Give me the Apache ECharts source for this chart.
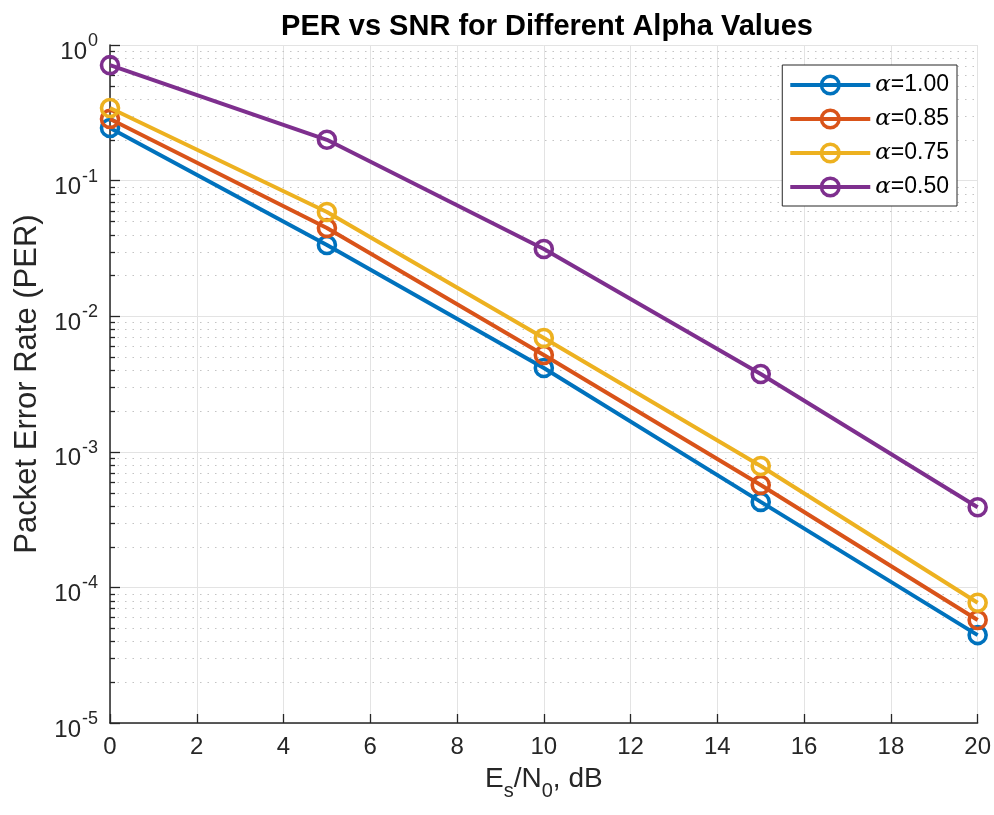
<!DOCTYPE html>
<html><head><meta charset="utf-8">
<script src="https://cdn.jsdelivr.net/npm/echarts@6/dist/echarts.min.js"></script>
<style>html,body{margin:0;padding:0;background:#fff}#c{width:994px;height:815px}</style>
</head><body><div id="c"></div>
<script>
const snr = [0, 5, 10, 15, 20];
const per100 = [0.244, 0.0335, 0.00415, 0.000427, 0.0000445];
const per085 = [0.285, 0.0447, 0.00517, 0.000569, 0.0000575];
const per075 = [0.343, 0.0587, 0.0069, 0.000785, 0.000077];
const per050 = [0.71, 0.20, 0.0313, 0.00375, 0.00039];
const seriesNames = ['α=1.00', 'α=0.85', 'α=0.75', 'α=0.50'];
const colors = ['#0072BD', '#D95319', '#EDB120', '#7E2F8E'];
const xTicks = [0, 2, 4, 6, 8, 10, 12, 14, 16, 18, 20];
const yDecades = [-5, -4, -3, -2, -1, 0];

const minorVals = [];
for (const e of yDecades.slice(0, -1)) for (let m = 2; m <= 9; m++) minorVals.push(m * Math.pow(10, e));

const allData = [per100, per085, per075, per050];
const font = 'Arial, "Liberation Sans", Helvetica, sans-serif';
const serif = '"DejaVu Serif", "Liberation Serif", serif';

const lineSeries = allData.map((arr, i) => ({
  name: seriesNames[i],
  type: 'line',
  data: snr.map((x, j) => [x, arr[j]]),
  symbol: 'circle',
  symbolSize: 17,
  showAllSymbol: true,
  lineStyle: { color: colors[i], width: 4 },
  itemStyle: { color: 'rgba(255,255,255,0)', borderColor: colors[i], borderWidth: 3.6 },
  emphasis: { disabled: true },
  z: 10 + i
}));

const minorSeries = {
  type: 'custom',
  silent: true,
  data: minorVals.map(v => [0, v]),
  z: 1,
  renderItem: function (params, api) {
    const cs = params.coordSys;
    const p = api.coord([0, api.value(1)]);
    const y = Math.round(p[1]) + 0.5;
    return {
      type: 'group',
      children: [
        { type: 'line', shape: { x1: cs.x, y1: y, x2: cs.x + cs.width, y2: y },
          style: { stroke: '#c4c4c4', lineWidth: 1.2, lineDash: [1.5, 6] } },
        { type: 'line', shape: { x1: cs.x, y1: y, x2: cs.x + 5, y2: y },
          style: { stroke: '#262626', lineWidth: 1.3 }, z2: 100 }
      ]
    };
  }
};

const chart = echarts.init(document.getElementById('c'), null, { renderer: 'canvas' });
chart.setOption({
  animation: false,
  backgroundColor: '#ffffff',
  title: {
    text: 'PER vs SNR for Different Alpha Values',
    left: 542, top: 7, textAlign: 'center',
    textStyle: { fontFamily: font, fontSize: 29, fontWeight: 'bold', color: '#000' }
  },
  grid: { left: 110, right: 16, top: 45, bottom: 92, containLabel: false },
  legend: {
    orient: 'vertical',
    right: 37, top: 65,
    data: seriesNames.map((n, i) => ({
      name: n,
      itemStyle: { color: 'rgba(255,255,255,0)', borderColor: colors[i], borderWidth: 3.5 },
      lineStyle: { color: colors[i], width: 4 }
    })),
    itemWidth: 80, itemHeight: 22, itemGap: 10,
    padding: [8, 8, 7, 6],
    borderColor: '#262626', borderWidth: 1, backgroundColor: '#fff',
    selectedMode: false,
    formatter: n => '{a|α}' + n.slice(1),
    textStyle: {
      fontFamily: font, fontSize: 23, color: '#000', lineHeight: 24,
      rich: { a: { fontFamily: serif, fontStyle: 'italic', fontSize: 23, color: '#000' } }
    }
  },
  xAxis: {
    type: 'value', min: 0, max: 20, interval: 2,
    name: '{n|E}{s|s}{n|/N}{s|0}{n|, dB}',
    nameLocation: 'middle', nameGap: 34, nameMoveOverlap: false,
    nameTextStyle: {
      fontFamily: font, fontSize: 28, color: '#262626',
      rich: { n: { fontFamily: font, fontSize: 28, color: '#262626' },
              s: { fontFamily: font, fontSize: 20, color: '#262626', padding: [24, 0, 0, 0] } }
    },
    axisLine: { show: true, lineStyle: { color: '#262626', width: 1.5 } },
    axisTick: { show: true, inside: true, length: 9, lineStyle: { color: '#262626', width: 1.3 } },
    axisLabel: { fontFamily: font, fontSize: 24, color: '#262626', margin: 12,
      formatter: v => xTicks.includes(v) ? String(v) : '' },
    splitLine: { show: true, lineStyle: { color: '#e3e3e3', width: 1 } }
  },
  yAxis: {
    type: 'log', logBase: 10, min: 1e-5, max: 1,
    name: 'Packet Error Rate (PER)',
    nameLocation: 'middle', nameGap: 64,
    nameTextStyle: { fontFamily: font, fontSize: 31, color: '#262626' },
    axisLine: { show: true, lineStyle: { color: '#262626', width: 1.5 } },
    axisTick: { show: true, inside: true, length: 10, lineStyle: { color: '#262626', width: 1.3 } },
    axisLabel: {
      fontFamily: font, fontSize: 24, color: '#262626', margin: 12,
      formatter: v => { const e = Math.round(Math.log10(v)); return '{b|10}{s|' + e + '}'; },
      rich: { b: { fontFamily: font, fontSize: 24, color: '#262626', padding: [14, 0, 0, 0] },
              s: { fontFamily: font, fontSize: 18, color: '#262626', padding: [0, 0, 8, 1] } }
    },
    splitLine: { show: true, lineStyle: { color: '#e3e3e3', width: 1 } }
  },
  series: [minorSeries].concat(lineSeries)
});
</script></body></html>
